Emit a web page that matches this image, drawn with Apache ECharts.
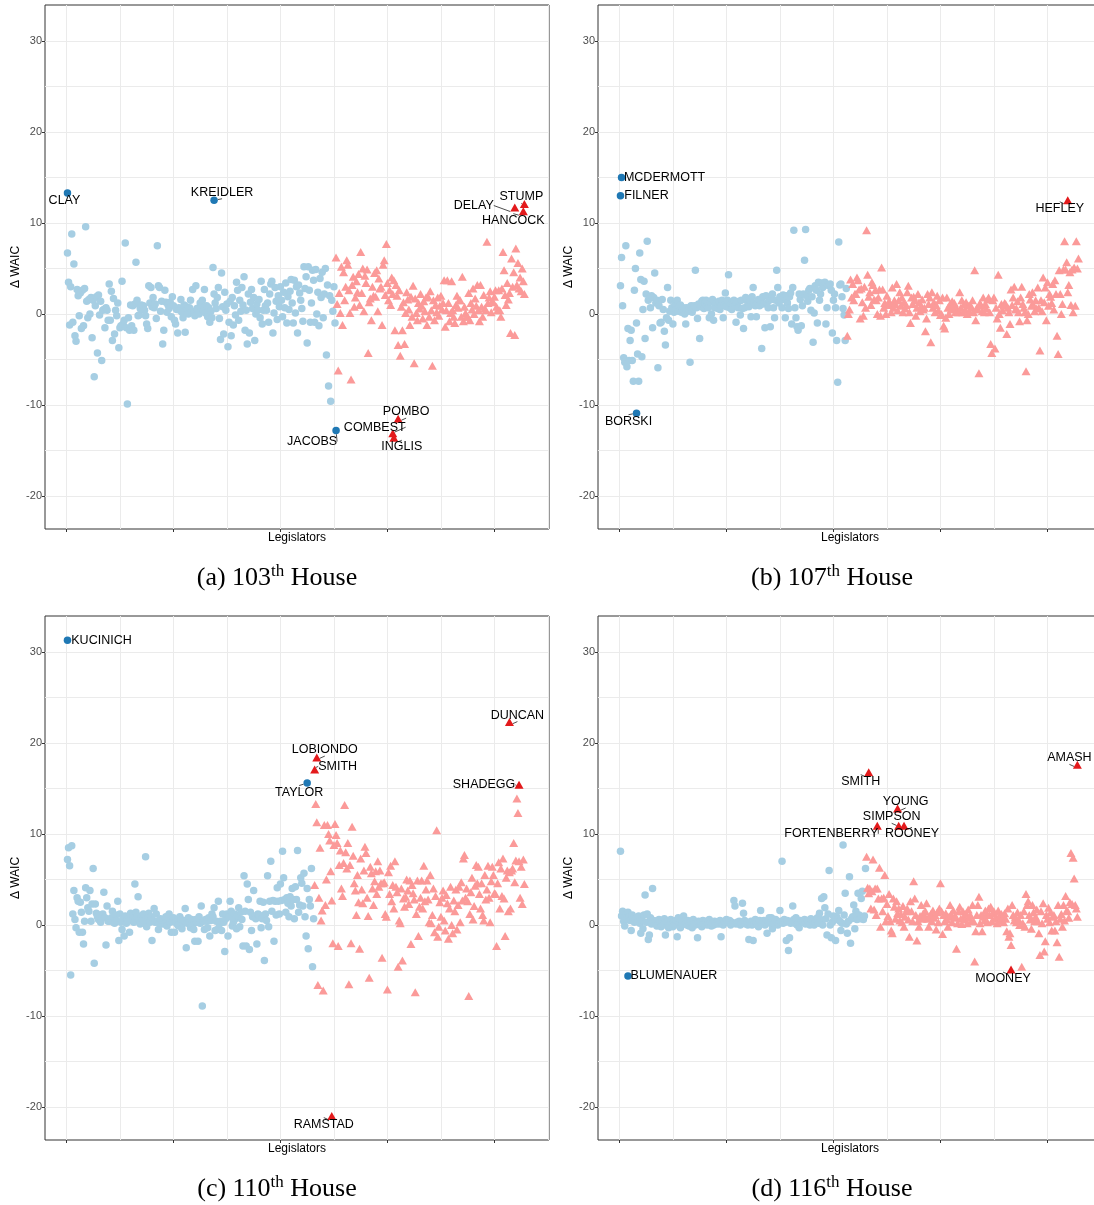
<!DOCTYPE html>
<html>
<head>
<meta charset="utf-8">
<script src="https://cdn.jsdelivr.net/npm/echarts@6/dist/echarts.min.js"></script>
<style>
  html, body { margin: 0; padding: 0; background: #fff; }
  #chart { width: 1094px; height: 1205px; }
</style>
</head>
<body>
<div id="chart"></div>
<script>
// (a) 103th House -- Democrats then Republicans, ordered by ideal point
const demA = [
  6.7, 3.5, -1.2, 3.0, 8.8, -0.9, 5.5, -2.4, -3.0, 2.7,
  2.0, -0.2, 2.3, -1.6, 2.6, -1.3, 2.8, 9.6, 1.4, -0.4,
  1.6, 0.0, 1.8, -2.6, 1.5, -6.9, 0.9, 1.9, -4.3, 2.1,
  -0.1, 1.4, -5.1, 0.4, 0.5, -1.5, 0.7, 0.4, -0.7, 3.3,
  -0.7, 2.5, -2.9, 1.7, -2.2, 0.4, -0.2, 1.2, -3.7, -1.5,
  -1.3, 3.6, -1.1, -0.7, 7.8, -1.5, -9.9, -0.4, -1.8, 1.0,
  -1.3, 0.9, -1.8, 1.1, 5.7, 1.5, -0.2, -0.1, 0.6, 1.0,
  0.5, 0.9, 0.4, -0.2, -1.1, -1.6, 3.1, 1.2, 2.9, 0.8,
  1.8, 0.7, 1.1, -0.5, 7.5, 3.1, 2.9, 0.3, 1.4, -3.3,
  -1.8, 2.6, 1.3, 0.2, 1.0, 0.6, 1.3, -0.3, 1.9, 0.9,
  -0.7, -1.1, 0.5, -2.1, 0.7, 0.4, 1.6, 0.2, -0.4, 1.0,
  -2.0, 0.8, 0.5, 0.0, 0.7, 1.5, 0.3, 2.7, 0.1, -0.2,
  3.1, 0.6, 0.5, 0.0, 1.2, 0.7, 1.5, 0.4, 2.7, 0.1,
  0.9, -0.3, 0.7, -0.9, 0.3, -0.4, 5.1, 2.2, 1.2, 0.6,
  1.8, 2.9, -0.5, -2.8, 4.5, 0.8, -2.2, 2.4, 0.4, 1.1,
  -3.6, -0.9, 1.4, -2.4, 1.8, -1.2, 0.9, -0.1, 3.5, 2.6,
  -0.7, 1.5, 0.3, 2.9, 1.0, 4.1, -1.8, 0.4, -3.3, 2.2,
  -2.1, 1.3, 2.7, 0.6, 1.8, -2.9, 0.0, 1.1, 0.4, 1.6,
  -0.4, 3.6, -1.1, 0.4, 2.7, 0.9, 0.4, 1.2, -0.9, 2.2,
  3.3, 3.6, -2.1, 0.1, 2.9, 1.4, -0.6, 2.0, 0.8, 3.0,
  1.5, -0.3, 2.4, 0.7, 3.4, -1.0, 1.9, 0.5, 2.5, 3.8,
  1.2, -1.0, 3.7, 0.1, 3.0, -2.1, 3.2, 2.3, 1.5, 0.6,
  -0.8, 5.2, 2.8, 4.1, -3.2, 5.2, 2.6, -0.9, 1.2, 4.8,
  3.7, -0.9, 4.9, 0.0, 2.4, -1.3, 3.9, 1.8, 4.6, -0.4,
  2.2, 5.0, -4.5, 3.2, -7.9, 2.0, -9.6, 1.5, 0.3, 3.0,
  -1.0
];
const repA = [
  6.2, 1.1, -6.2, 2.3, 0.1, 5.2, -1.2, 4.6, 1.5, 3.0,
  5.9, 5.4, 2.6, 0.1, -7.2, 3.2, 4.1, 0.8, 1.8, 3.6, 2.4, 4.4, 1.0,
  6.8, 2.3, 5.0, 0.3, 4.2, 3.4, 4.9, -4.3, 1.3, 1.7, -0.7, 3.0, 2.0, 4.5, 1.9,
  4.8, 0.3, 3.9, 2.8, 3.0, -1.2, 5.4, 5.9, 2.1, 7.7, 3.4, 1.5, 2.6, 1.0, 4.0, 2.2,
  3.7, -1.8, 3.2, 2.0, -3.4, 2.6, -4.6, 0.8, -1.8, 1.3, -3.3, 0.1, 2.4, 1.6, 0.5,
  -1.2, 1.9, -0.3, 3.1, -5.4, 1.7, 0.1, -0.7, 1.2, 0.6, 2.2, 0.9, -0.5, 1.4, 0.3, 1.8,
  -1.2, 1.9, -0.3, 2.5, 0.4, -5.7, 1.5, -0.7, 1.0, 0.2, 1.8, -0.2, 0.9, 2.0, 0.5, 1.2,
  3.7, -1.4, 0.4, 3.7, 1.2, -0.8, 0.1, 3.6, 0.4, -0.3, -1.0, 1.0, 2.0, 0.7, 1.5,
  1.5, -0.3, 4.1, -0.8, 0.8, 0.1, -0.3, -0.3, 2.3, -0.7, 1.2, 0.5, 2.8, 0.0, 1.7, 0.9,
  3.2, 0.4, -0.8, 3.2, 0.8, -0.3, 2.1, 0.6, 0.4, 7.95, 1.2, 1.8, 2.5, 0.2, 1.4,
  1.3, 1.9, 2.6, 0.8, 0.4, 2.6, 0.4, -0.3, 2.8, 6.8, 4.8, 2.1, 1.0, 3.4, 1.6, 2.3,
  -2.1, 6.1, 3.0, 4.6, -2.3, 7.2, 3.2, 5.6, 2.8, 4.0, 2.5, 5.0, 3.6, 2.2
];
const hiNameA = ['CLAY', 'KREIDLER', 'JACOBS', 'DELAY', 'STUMP', 'HANCOCK', 'POMBO', 'COMBEST', 'INGLIS'];
const hiXA = [1, 138, 252, 419, 428, 427, 310, 305, 306];
const hiYA = [13.3, 12.5, -12.8, 11.7, 12.1, 11.3, -11.5, -13.1, -13.6];
const hiPartyA = ['D', 'D', 'D', 'R', 'R', 'R', 'R', 'R', 'R'];

// (b) 107th House
const demB = [
  3.1, 6.2, 0.9, -4.8, -5.3, 7.5, -5.8, -1.6, -5.1, -2.9,
  -1.8, -5.1, -7.4, 2.6, 5.0, -1.0, -4.4, -7.4, 6.7, 3.8,
  -4.7, 0.5, 3.6, -2.7, 2.2, 8.0, 1.5, 1.8, 0.7, 2.0,
  -1.5, 1.8, 4.5, 1.2, 1.5, -5.9, 0.9, -1.0, -0.9, 1.6,
  0.5, -1.9, -3.4, -0.4, 2.9, -0.7, 0.3, 1.5, 0.7, -1.1,
  0.2, 1.1, 0.5, 1.5, 0.3, 0.8, 1.0, 0.2, 0.5, 0.7,
  0.0, -1.1, 0.7, 0.3, 0.5, -5.3, 0.9, 0.2, 0.6, 0.9,
  4.8, 0.7, -0.5, 1.1, -2.7, 0.8, 1.4, 1.5, 0.6, 1.2,
  1.5, 0.9, 0.7, -0.4, 1.3, 0.0, 1.6, -0.7, 0.7, 1.1,
  1.2, 0.6, 1.4, 0.5, 0.9, 1.5, -0.4, 1.0, 2.3, 0.8,
  1.5, 4.3, 0.7, 1.1, 0.5, 1.3, 1.5, 0.9, -0.9, 1.2,
  0.7, 1.4, -0.1, 1.5, 0.6, -1.6, 0.7, 1.8, 1.5, 1.0,
  0.8, 1.5, -0.3, 1.9, 2.9, 1.2, 0.9, -0.3, 1.3, 1.6,
  0.9, 1.5, -3.8, 1.9, 1.1, -1.5, 2.0, 1.2, 0.7, 1.5,
  -1.4, 1.6, 2.2, 0.7, -0.4, 1.5, 4.8, 2.9, 1.2, 1.9,
  1.5, 0.7, 2.1, 1.8, -0.4, 2.0, 1.2, 0.6, 1.9, 2.3,
  -1.1, 2.9, 9.2, 0.7, -0.4, -1.4, -1.8, 2.2, 1.6, -1.3,
  0.9, 2.2, 5.9, 9.3, 2.0, 1.4, 2.6, 2.8, 0.4, 1.9,
  -3.1, 0.1, 3.1, 2.6, -1.0, 3.5, 1.5, 2.2, 3.4, 2.9,
  3.1, 3.5, -1.1, 0.7, 3.2, 3.1, 3.3, 2.6, -2.1, 1.5,
  2.2, 0.7, -2.9, -7.5, 7.9, 3.2, 3.3, 1.9, 0.6, -0.1,
  -2.9, 2.8
];
const repB = [
  -2.4, 0.0, 0.5, 3.8, 1.8, 3.3, 1.5, 2.2,
  2.2, 4.0, 3.7, 2.7, -0.5, 2.8, 1.3, -0.2, 3.0, 0.7, 9.2, 4.3, 1.9, 2.4, 1.0, 3.5,
  3.2, 1.6, 2.6, 1.5, 0.0, 1.8, 2.7, -0.2, 5.1, 2.7, 0.7, 1.2, 0.0, 2.0, 1.0, 1.4,
  1.1, 0.2, 2.9, 0.7, 1.5, 1.1, 3.3, 0.4, 1.5, 2.4, 0.9, 1.8, 0.2, 1.3, 0.6, 1.0,
  2.4, 3.1, 0.2, -1.0, 1.8, 1.1, 1.9, 1.5, -0.2, 0.7, 2.2, 1.3, 0.3, 0.9, 1.6, 0.5,
  0.7, -1.9, -0.5, 2.2, 1.1, 1.8, -3.1, 2.4, 0.7, 1.3, 0.2, 1.0, 2.0, 0.4, 1.5, -0.1,
  0.0, 1.8, -1.3, -1.6, -0.4, 1.8, 0.7, 0.0, 1.1, 0.5, 1.4, 0.8, 1.2, 0.2,
  0.7, 0.4, 0.2, 2.4, 0.7, 1.5, 0.2, 1.1, 0.5, 1.3, 0.0, 0.9, 0.3, 1.0,
  0.7, 1.5, 0.2, 4.8, -0.7, 0.7, 0.5, -6.5, 1.2, 0.9, 0.3, 1.8, 0.2, 1.1, 0.6, 1.6,
  1.8, 0.2, -3.3, -4.3, 1.5, 1.8, -3.8, 0.7, -0.5, 4.3, 0.0, -1.5, 1.1, 0.4, 0.9, 1.2,
  1.1, -2.2, 0.7, 0.2, -1.1, 2.7, 1.0, 1.8, 3.0, 0.5, 0.6, 1.4, 0.2, -0.8,
  1.8, 3.0, 1.1, 0.7, 0.2, -6.3, -0.7, 0.0, 2.2, 1.6, 0.9, 2.4, 1.0, 0.3, 1.5, 0.6,
  2.9, 0.7, -4.0, 1.5, 0.3, 4.0, 1.3, 2.9, -0.7, 3.5, 0.9, 2.2, 1.9, 1.2, 3.3, 0.5,
  3.7, 2.2, -2.4, -4.4, 4.8, 2.2, 0.0, 1.1, 4.9, 8.0, 4.9, 5.7, 2.4, 3.2, 4.6, 1.0,
  4.9, 0.2, 5.1, 0.9, 8.0, 5.0, 6.1
];
const hiNameB = ['MCDERMOTT', 'FILNER', 'BORSKI', 'HEFLEY'];
const hiXB = [2, 1, 16, 419];
const hiYB = [15.0, 13.0, -10.9, 12.5];
const hiPartyB = ['D', 'D', 'D', 'R'];

// (c) 110th House
const demC = [
  7.2, 8.5, 6.5, -5.5, 8.7, 1.2, 3.8, 0.6, -0.3, 3.0,
  2.6, -0.8, 2.5, 1.4, -0.8, -2.1, 0.4, 4.1, 3.0, 1.9,
  1.5, 3.8, 0.4, 2.3, 6.2, -4.2, 2.3, 1.3, 0.9, 0.6,
  1.1, 0.3, 0.9, 1.2, 3.6, 0.8, -2.2, 2.1, 0.4, 0.4,
  0.6, 0.8, 1.5, 0.3, 0.2, 1.1, 0.5, 2.6, -1.7, 1.2,
  0.3, -0.5, 0.8, -1.2, 1.0, 0.2, 0.6, 0.4, -0.8, 1.3,
  0.9, 1.0, 0.3, 4.5, 1.4, 0.9, 3.1, 0.5, 0.1, 1.0,
  0.6, 1.2, 0.4, 7.5, -0.2, 0.8, 1.3, 0.3, 0.9, -1.7,
  0.5, 1.8, 0.3, 1.2, 0.4, -0.5, 0.2, 0.7, 0.1, 0.5,
  0.3, 0.1, 0.9, -0.1, 0.6, 1.2, 0.3, -0.8, 0.4, 0.8,
  -0.8, 0.3, 0.2, 0.0, -0.1, 0.9, 0.6, -0.4, 0.2, 0.5,
  1.8, -2.5, 0.2, 0.8, 0.3, -0.3, 0.6, 0.0, -0.5, -1.8,
  0.6, 0.3, -1.8, 0.9, 0.2, 2.1, -8.9, 0.4, -0.5, 0.6,
  0.4, -0.3, 0.8, -1.2, 0.5, 1.2, 0.9, 1.9, -0.6, 0.4,
  -0.5, 2.6, 0.1, 0.4, -0.6, 1.2, 0.3, -2.9, 0.7, 1.2,
  -1.2, 0.9, 2.6, 1.5, -0.1, 0.3, 1.2, 0.7, -0.4, 1.0,
  1.9, -0.2, 1.4, 0.6, -2.3, 5.4, 1.5, -2.3, 4.5, 2.8,
  -2.7, 1.4, -0.6, 0.9, 3.8, 1.0, 0.7, -2.1, 1.2, 1.1,
  2.6, -0.3, 0.7, 2.5, -3.9, 1.2, 0.5, 5.4, -0.2, 2.6,
  7.0, 1.5, 2.7, -1.8, 2.6, 1.1, 4.1, 2.6, 1.2, 4.5,
  2.7, 8.1, 5.2, 2.8, 1.4, 3.0, 2.4, 0.9, 3.1, 2.1,
  4.0, 2.8, 0.7, 4.2, 2.8, 8.2, 1.4, 2.2, 5.2, 4.6,
  2.1, 5.7, 0.9, -1.2, 4.0, -2.6, 2.8, 2.1, 6.2, -4.6,
  0.7
];
const repC = [
  4.4, 13.3, 11.3, -6.6, 3.0, 8.5, 0.5, 1.6, -7.2, 11.0, 2.2, 5.0,
  11.0, 10.0, 9.3, 5.9, 2.7, -2.0, 8.8, 11.1, 9.9, 9.0, -2.3, 6.6, 8.2, 4.0, 3.2,
  6.8, 13.2, 8.0, 6.2, 9.0, -6.5, 6.6, -2.0, 10.8, 7.6, 4.6, 3.8, 1.1, 5.5, 2.5, -2.6,
  7.3, 3.9, 2.4, 6.0, 8.6, 7.9, 3.0, 1.0, -5.8, 6.4, 5.7, 4.0, 2.2, 4.8, 5.9, 3.4,
  7.0, 4.2, 6.0, 4.6, -3.6, 4.6, 4.7, 1.2, 0.9, -7.1, 5.8, 3.4, 6.5, 2.6, 4.4, 1.8,
  7.0, 4.2, 3.6, -4.6, 0.5, 0.2, 4.0, -3.9, 2.9, 2.0, 3.1, 5.0, 3.8, 2.3, 4.9,
  -2.1, 4.4, 3.5, 2.8, -7.4, 1.2, 4.9, -1.2, 2.0, 3.0, 4.9, 1.8, 6.5, 2.6, 3.9,
  4.9, 2.8, 0.3, 5.5, 0.2, 1.1, 4.0, -0.8, 3.2, 10.4, -1.3, -0.2, 2.5, 0.9, 3.0,
  3.8, 0.5, -0.6, 3.3, 2.4, -1.5, 1.8, 4.2, 0.0, -0.9, 2.7, 1.5, 3.9, -0.5, 2.2,
  4.2, 0.3, 4.7, 2.7, 7.3, 7.7, 3.0, 4.0, 2.6, -7.8, 1.2, 3.6, 5.2, 0.6, 2.1, 4.3,
  6.6, 4.6, 6.4, 3.4, 1.8, 4.6, 1.1, 0.5, 5.5, 2.8, 3.9, 6.5, 3.0, 0.3, 4.8,
  6.4, 5.5, 3.5, 3.4, -2.3, 4.6, 6.9, 1.8, 6.2, 3.2, 7.3, 2.9, -1.2, 5.2, 6.0, 1.5,
  5.8, 1.8, 6.0, 6.2, 9.0, 4.7, 7.1, 13.9, 12.3, 7.0, 3.0, 6.4, 2.3, 7.2, 4.5
];
const hiNameC = ['KUCINICH', 'TAYLOR', 'SMITH', 'LOBIONDO', 'RAMSTAD', 'DUNCAN', 'SHADEGG'];
const hiXC = [1, 225, 232, 234, 248, 414, 423];
const hiYC = [31.3, 15.6, 17.1, 18.4, -21.0, 22.3, 15.4];
const hiPartyC = ['D', 'D', 'R', 'R', 'R', 'R', 'R'];

// (d) 116th House
const demD = [
  8.1, 1.0, 1.5, 0.4, -0.1, 1.1, 0.6, 1.4, 0.9, 0.5,
  -0.6, 1.1, 0.7, 0.3, 0.6, 0.8, 0.4, 1.0, 0.2, -0.9,
  0.5, -0.4, 1.1, 3.3, 0.3, 1.2, -1.6, -1.1, 0.8, 0.1,
  4.0, 0.5, 0.4, 0.2, -0.1, 0.0, 0.6, 0.3, -0.2, 0.4,
  0.0, 0.7, -1.1, 0.3, 0.4, -0.3, 0.2, 0.6, 0.0, -0.2,
  0.4, 0.0, 0.5, -1.3, 0.8, 0.2, -0.3, 0.6, 0.1, 1.0,
  0.4, 0.2, 0.0, 0.5, -0.1, 0.2, 0.3, -0.3, 0.6, 0.1,
  0.0, 0.2, -1.4, 0.4, 0.3, 0.0, -0.2, 0.5, 0.1, 0.2,
  0.4, 0.0, 0.2, 0.6, 0.3, -0.1, 0.2, 0.0, 0.4, 0.1,
  0.2, 0.3, 0.1, 0.5, -1.3, 0.2, 0.0, 0.4, 0.3, 0.6,
  0.4, 0.3, 0.5, 0.0, 0.3, 0.2, 2.7, 2.1, 0.1, 0.3,
  0.2, 0.4, 0.0, 0.2, 2.4, 1.3, 0.5, 0.1, 0.3, 0.0,
  -1.6, 0.2, 0.4, 0.0, -1.7, 0.1, 0.6, 0.3, 0.0, -0.2,
  0.5, 1.6, 0.2, 0.4, 0.5, 0.0, 0.3, -0.9, 0.4, 0.8,
  0.2, 0.8, -0.4, 0.6, 0.2, 0.6, 0.3, 0.0, 0.2, 1.6,
  0.4, 7.0, 0.2, 0.6, 0.3, -1.7, 0.5, -2.8, -1.4, 0.2,
  0.4, 2.1, 0.6, 0.2, 0.8, 0.0, 0.2, -0.3, 0.5, 0.3,
  0.4, 0.3, 0.6, 0.1, 0.2, 0.5, 0.4, 0.0, 0.7, 0.5,
  0.3, 0.0, 0.3, 0.5, 0.8, 0.2, 1.3, 0.6, 2.9, 0.0,
  3.1, 1.9, 0.7, -1.1, 1.2, 6.0, 0.0, -1.4, 0.3, 1.0,
  0.8, -1.7, 0.9, 0.6, 1.6, 0.4, -0.6, 0.2, 8.8, 1.1,
  3.5, 0.1, -0.9, 0.4, 5.3, -2.0, 0.7, 0.9, 2.2, -0.4,
  1.5, 0.6, 3.5, 1.1, 0.7, 2.9, 3.7, 0.6, 1.0, 6.2
];
const repD = [
  7.5, 4.1, 3.5, 4.0, 1.8, 3.7,
  7.2, 1.7, 4.0, 1.1, 4.0, 2.9, 6.3, -0.2, 2.9, 1.5, 3.0, 5.5, 0.4, 2.3, 1.0, 3.4,
  0.4, -0.6, -0.9, 2.9, 2.0, 0.7, 2.6, 1.3, 1.8, 0.5, 1.2, 0.3, 2.1, -0.2, 0.9, 1.5,
  1.8, 0.6, -1.3, 2.6, 1.5, 0.4, 4.8, 2.9, 1.1, -1.7, 0.4, -0.2, 1.0, 2.2, 0.7, 1.3,
  0.9, 1.5, 2.4, 0.7, -0.2, 0.9, 1.2, 0.4, 1.6, 0.8, 1.1, -0.5, 1.4, 0.3, 1.8,
  4.6, 1.5, -1.0, 1.1, 0.4, 1.3, 0.6, -0.2, 0.9, 2.2, 1.2, 0.3, 1.6, 0.8, 1.0,
  -2.6, 0.2, 1.5, 2.0, 0.7, 0.1, 1.5, 1.0, 0.6, 1.3, 0.2, 1.7, 0.8, 1.1, 0.4,
  2.2, 0.4, -4.0, -0.7, 1.1, 2.2, 3.1, 0.2, 1.1, -0.7, 0.9, 0.5, 1.6, 1.2, 0.3,
  1.8, 1.1, 2.0, 0.4, 1.3, 1.5, 0.7, 0.9, 0.2, 1.6, 1.0, 0.5, 1.2, 0.8, 0.3,
  1.3, 0.7, -0.7, 1.8, -1.3, -0.9, -2.2, 2.2, 1.1, 0.5, 0.9, 0.3, 1.4, 0.6, 0.0,
  1.1, -4.6, 0.2, 1.5, -0.2, 3.4, 2.2, 2.6, 1.1, 0.6, -0.4, 2.2, 1.4, 0.4, 0.9, 1.7,
  0.4, -0.9, -3.3, 1.5, 0.2, 2.4, -2.9, -1.8, 1.1, 0.7, 1.9, 0.3, 1.4, -0.6, 0.9,
  1.1, -0.6, 0.4, -1.9, 2.2, -3.5, 0.7, 1.2, -0.2, 2.2, 0.5, 3.2, 1.6, 1.5, 0.8, 2.5,
  7.9, 2.3, 7.4, 5.1, 2.2, 1.8, 0.9
];
const hiNameD = ['BLUMENAUER', 'SMITH', 'FORTENBERRY', 'YOUNG', 'SIMPSON', 'ROONEY', 'MOONEY', 'AMASH'];
const hiXD = [8, 233, 241, 260, 261, 266, 366, 428];
const hiYD = [-5.6, 16.8, 10.9, 12.8, 10.9, 10.9, -4.9, 17.6];
const hiPartyD = ['D', 'R', 'R', 'R', 'R', 'R', 'R', 'R'];

const yTicks = [-20, -10, 0, 10, 20, 30];
const yGrid = [-20, -15, -10, -5, 0, 5, 10, 15, 20, 25, 30];
const xTicks = [0, 100, 200, 300, 400];
const xGrid = [0, 50, 100, 150, 200, 250, 300, 350, 400, 450];
const captionTag = ['(a)', '(b)', '(c)', '(d)'];
const captionNum = ['103', '107', '110', '116'];

// label nudges in px (ggrepel placement), same order as hiName*
const nudge = [
  [[-3, 8], [8, -8], [-24, 11], [-41, -2], [-3, -7], [-10, 9], [8, -7], [-18, -6], [8, 9]],
  [[43, 0], [26, 0], [-8, 8], [-8, 8]],
  [[34, 0], [-8, 9], [23, -3], [8, -8], [-8, 8], [8, -7], [-35, 0]],
  [[46, 0], [-8, 9], [-46, 8], [8, -7], [-7, -9], [8, 8], [-8, 9], [-8, -7]]
];

const panels = [
  {dem: demA, rep: repA, name: hiNameA, x: hiXA, y: hiYA, party: hiPartyA, left: 45, top: 5},
  {dem: demB, rep: repB, name: hiNameB, x: hiXB, y: hiYB, party: hiPartyB, left: 598, top: 5},
  {dem: demC, rep: repC, name: hiNameC, x: hiXC, y: hiYC, party: hiPartyC, left: 45, top: 616},
  {dem: demD, rep: repD, name: hiNameD, x: hiXD, y: hiYD, party: hiPartyD, left: 598, top: 616}
];

const W = 504, H = 524;
const XMIN = -20, XMAX = 451, YMIN = -23.63, YMAX = 33.96;
const SANS = 'Liberation Sans';

const chart = echarts.init(document.getElementById('chart'));

const grid = [], xAxis = [], yAxis = [], series = [], graphic = [];

panels.forEach(function (p, i) {
  grid.push({
    left: p.left, top: p.top, width: W, height: H,
    show: true, borderColor: '#333333', borderWidth: 1,
    backgroundColor: 'transparent', outerBoundsMode: 'none'
  });
  // main axes: ticks + titles
  xAxis.push({
    type: 'value', gridIndex: i, min: XMIN, max: XMAX, position: 'bottom',
    axisLine: {show: false, onZero: false},
    axisTick: {show: true, customValues: xTicks, length: 3, lineStyle: {color: '#333333'}},
    axisLabel: {show: false},
    splitLine: {show: false},
    name: 'Legislators', nameLocation: 'middle', nameGap: 3,
    nameTextStyle: {color: '#000', fontSize: 12, fontFamily: SANS, verticalAlign: 'top'}
  });
  yAxis.push({
    type: 'value', gridIndex: i, min: YMIN, max: YMAX, position: 'left',
    axisLine: {show: false, onZero: false},
    axisTick: {show: true, customValues: yTicks, length: 3, lineStyle: {color: '#333333'}},
    axisLabel: {show: true, customValues: yTicks, color: '#4D4D4D', fontSize: 11, fontFamily: SANS, margin: 3},
    splitLine: {show: false},
    name: 'Δ WAIC', nameLocation: 'middle', nameGap: 23, nameRotate: 90,
    nameTextStyle: {color: '#000', fontSize: 12, fontFamily: SANS}
  });
  // grid-line axes (major + minor lines)
  xAxis.push({
    type: 'value', gridIndex: i, min: XMIN, max: XMAX, position: 'bottom',
    axisLine: {show: false, onZero: false},
    axisTick: {show: false, customValues: xGrid},
    axisLabel: {show: false},
    splitLine: {show: true, customValues: xGrid, lineStyle: {color: '#EBEBEB', width: 1}}
  });
  yAxis.push({
    type: 'value', gridIndex: i, min: YMIN, max: YMAX, position: 'left',
    axisLine: {show: false, onZero: false},
    axisTick: {show: false, customValues: yGrid},
    axisLabel: {show: false},
    splitLine: {show: true, customValues: yGrid, lineStyle: {color: '#EBEBEB', width: 1}}
  });

  const xi = i * 2, yi = i * 2;
  series.push({
    type: 'scatter', xAxisIndex: xi, yAxisIndex: yi, silent: true,
    symbol: 'circle', symbolSize: 7.5,
    itemStyle: {color: '#A6CEE3', opacity: 1},
    data: p.dem.map(function (v, k) { return [k + 1, v]; }),
    z: 3
  });
  series.push({
    type: 'scatter', xAxisIndex: xi, yAxisIndex: yi, silent: true,
    symbol: 'triangle', symbolSize: [9, 8],
    itemStyle: {color: '#FB9A99', opacity: 1},
    data: p.rep.map(function (v, k) { return [p.dem.length + 1 + k, v]; }),
    z: 3
  });
  const off = nudge[i];
  series.push({
    type: 'scatter', xAxisIndex: xi, yAxisIndex: yi, silent: true,
    data: p.name.map(function (n, k) {
      const dem = p.party[k] === 'D';
      return {
        name: n, value: [p.x[k], p.y[k]],
        symbol: dem ? 'circle' : 'triangle',
        symbolSize: dem ? 7.5 : [9, 8],
        itemStyle: {color: dem ? '#1F78B4' : '#E31A1C', opacity: 1}
      };
    }),
    label: {
      show: true, position: 'inside', formatter: '{b}',
      color: '#000', fontSize: 12.5, fontFamily: SANS
    },
    labelLayout: function (params) {
      const o = off[params.dataIndex];
      return {dx: o[0], dy: o[1]};
    },
    labelLine: {show: true, lineStyle: {color: '#000', width: 0.7}},
    z: 5
  });

  graphic.push({
    type: 'text',
    x: p.left + (i % 2 === 0 ? 232 : 234),
    y: p.top + 573,
    style: {
      text: '{n|' + captionTag[i] + ' ' + captionNum[i] + '}{s|th}{n| House}',
      align: 'center', verticalAlign: 'middle',
      rich: {
        n: {fontFamily: 'Liberation Serif', fontSize: 26, lineHeight: 29, fill: '#000'},
        s: {fontFamily: 'Liberation Serif', fontSize: 17, lineHeight: 17, verticalAlign: 'top', fill: '#000'}
      }
    }
  });
});

chart.setOption({
  animation: false,
  backgroundColor: '#fff',
  grid: grid,
  xAxis: xAxis,
  yAxis: yAxis,
  series: series,
  graphic: graphic
});
</script>
</body>
</html>
